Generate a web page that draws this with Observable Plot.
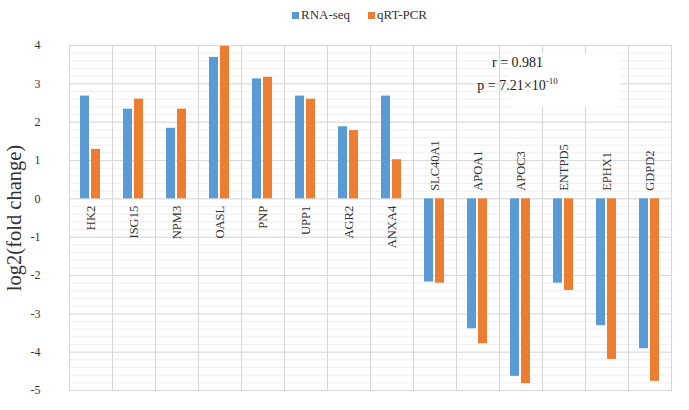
<!DOCTYPE html>
<html>
<head>
<meta charset="utf-8">
<script src="https://cdn.jsdelivr.net/npm/d3@7"></script>
<script src="https://cdn.jsdelivr.net/npm/@observablehq/plot@0.6"></script>
<style>
  body { margin: 0; background: #fff; width: 689px; height: 410px; overflow: hidden; }
  #legend { height: 30px; position: relative; font-family: "Liberation Serif", serif; font-size: 13px; color: #333; }
  .item { position: absolute; top: 7px; display: flex; align-items: center; }
  .sw { width: 7px; height: 7px; margin-right: 2px; }
</style>
</head>
<body>
<div id="legend"></div>
<div id="chart"></div>
<script>
const genes = ["HK2","ISG15","NPM3","OASL","PNP","UPP1","AGR2","ANXA4","SLC40A1","APOA1","APOC3","ENTPD5","EPHX1","GDPD2"];
const series = ["RNA-seq", "qRT-PCR"];
const rnaSeq = [2.68, 2.34, 1.84, 3.69, 3.13, 2.68, 1.88, 2.68, -2.17, -3.39, -4.63, -2.20, -3.31, -3.91];
const qrtPcr = [1.29, 2.60, 2.34, 3.98, 3.17, 2.60, 1.78, 1.02, -2.20, -3.78, -4.82, -2.39, -4.19, -4.76];
const yTicks = [4, 3, 2, 1, 0, -1, -2, -3, -4, -5];
const colors = ["#5B9BD5", "#ED7D31"];
const rValue = "0.981";
const pMantissa = "7.21";
const pExponent = "-10";
const annotGene = "ENTPD5";

const data = genes.flatMap((g, i) => [
  {gene: g, series: series[0], value: rnaSeq[i]},
  {gene: g, series: series[1], value: qrtPcr[i]}
]);
const labelRows = genes.map((g, i) => ({gene: g, up: rnaSeq[i] >= 0}));
const minorGrid = d3.range(-50, 41, 2).map(d => d / 10);

// legend
const legend = document.getElementById("legend");
const lefts = [292, 368];
series.forEach((s, i) => {
  const it = document.createElement("div");
  it.className = "item";
  it.style.left = lefts[i] + "px";
  it.innerHTML = `<span class="sw" style="background:${colors[i]}"></span><span>${s}</span>`;
  legend.appendChild(it);
});

const plot = Plot.plot({
  width: 689,
  height: 380,
  marginTop: 15,
  marginBottom: 20,
  marginLeft: 65,
  marginRight: 14,
  style: {fontFamily: "'Liberation Serif', serif", fontSize: "12px", color: "#333", background: "white"},
  fx: {domain: genes, padding: 0, axis: null},
  x: {domain: series, paddingInner: 0.17, paddingOuter: 0.9, axis: null},
  y: {domain: [-5, 4], ticks: yTicks, tickFormat: d => String(d), tickSize: 0, tickPadding: 29, label: "log2(fold change)", labelAnchor: "center", labelArrow: "none", labelOffset: 63},
  color: {domain: series, range: colors},
  marks: [
    Plot.ruleY(minorGrid, {stroke: "#efefef", strokeWidth: 1}),
    Plot.ruleY(yTicks, {stroke: "#dadada", strokeWidth: 1}),
    Plot.frame({stroke: "#d6d6d6"}),
    Plot.barY(data, {fx: "gene", x: "series", y: "value", fill: "series"}),
    Plot.text(labelRows, {filter: d => d.up, fx: "gene", y: 0, text: "gene", rotate: -90, textAnchor: "end", dy: 7, fontSize: 12.5, fill: "#333"}),
    Plot.text(labelRows, {filter: d => !d.up, fx: "gene", y: 0, text: "gene", rotate: -90, textAnchor: "start", dy: -8, fontSize: 12.5, fill: "#333"})
  ]
});

// y-axis title styling
d3.select(plot).selectAll('[aria-label="y-axis label"] text').style("font-size", "20.5px");

// annotation box
const fxs = plot.scale("fx");
const ys = plot.scale("y");
const cx = fxs.apply(annotGene) + fxs.bandwidth / 2;
const g = d3.select(plot).append("g").attr("font-family", "'Liberation Serif', serif").attr("fill", "#222");
g.append("rect")
  .attr("x", cx - 54).attr("width", 110)
  .attr("y", ys.apply(3.79)).attr("height", ys.apply(2.38) - ys.apply(3.79))
  .attr("fill", "white");
g.append("text").attr("x", cx - 46).attr("y", ys.apply(3.42)).attr("font-size", 14).text(`r = ${rValue}`);
const pt = g.append("text").attr("x", cx - 46).attr("y", ys.apply(2.82)).attr("font-size", 14);
pt.append("tspan").text(`p = ${pMantissa}×10`);
pt.append("tspan").attr("font-size", 9).attr("dy", -6).text(pExponent);

document.getElementById("chart").appendChild(plot);
</script>
</body>
</html>
